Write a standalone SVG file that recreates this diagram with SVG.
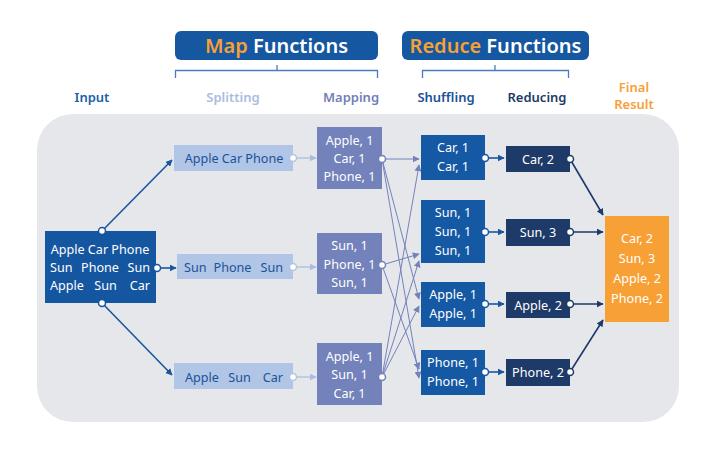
<svg xmlns="http://www.w3.org/2000/svg" width="714" height="454" viewBox="0 0 714 454">
<defs>
<style>
text{font-family:"Noto Sans","Open Sans","Liberation Sans",sans-serif;}
.hdr{font-size:20px;font-weight:600;fill:#fff;text-anchor:middle;}
.org{fill:#f7a035;}
.col{font-size:13px;font-weight:600;text-anchor:middle;}
.n{font-size:12.6px;fill:#fff;text-anchor:middle;}
.sp{font-size:12.6px;fill:#1a5299;text-anchor:middle;}
.st{text-anchor:start;}
.en{text-anchor:end;}
.br{fill:none;stroke:#4a7cc0;stroke-width:1.3;}
.dot{fill:#fff;stroke-width:1.5;}
.l1{stroke:#1a56a0;stroke-width:1.6;fill:none;}
.l2{stroke:#a9bde0;stroke-width:1.3;fill:none;}
.l3{stroke:#7382ba;stroke-width:1;fill:none;}
.l4{stroke:#1d3a68;stroke-width:1.6;fill:none;}
</style>
<marker id="a1" viewBox="0 0 10 10" refX="9" refY="5" markerWidth="7" markerHeight="7" markerUnits="userSpaceOnUse" orient="auto"><path d="M0,0L10,5L0,10z" fill="#1a56a0"/></marker>
<marker id="a2" viewBox="0 0 10 10" refX="9" refY="5" markerWidth="7" markerHeight="7" markerUnits="userSpaceOnUse" orient="auto"><path d="M0,0L10,5L0,10z" fill="#a9bde0"/></marker>
<marker id="a3" viewBox="0 0 10 10" refX="9" refY="5" markerWidth="7" markerHeight="7" markerUnits="userSpaceOnUse" orient="auto"><path d="M0,0L10,5L0,10z" fill="#7382ba"/></marker>
<marker id="a4" viewBox="0 0 10 10" refX="9" refY="5" markerWidth="7" markerHeight="7" markerUnits="userSpaceOnUse" orient="auto"><path d="M0,0L10,5L0,10z" fill="#1d3a68"/></marker>
</defs>
<rect width="714" height="454" fill="#fff"/>
<rect x="37" y="114" width="642" height="308" rx="36" fill="#e6e7eb"/>

<g id="header-map">
<rect x="175" y="31" width="203" height="29" rx="6" fill="#1557a0"/>
<text class="hdr" x="276.5" y="52.5"><tspan class="org">Map</tspan> Functions</text>
<path class="br" d="M175.5,78V70.5H377.5V78M277,70.5V65"/>
</g>
<g id="header-reduce">
<rect x="402" y="31" width="187" height="29" rx="6" fill="#1557a0"/>
<text class="hdr" x="495.5" y="52.5"><tspan class="org">Reduce</tspan> Functions</text>
<path class="br" d="M422.5,78V70.5H568.5V78M495,70.5V65"/>
</g>

<g id="labels">
<text class="col" x="92" y="102" fill="#1a5fa8">Input</text>
<text class="col" x="233" y="102" fill="#a9bde0">Splitting</text>
<text class="col" x="351" y="102" fill="#7180b8">Mapping</text>
<text class="col" x="446" y="102" fill="#1a5299">Shuffling</text>
<text class="col" x="537" y="102" fill="#1e3a66">Reducing</text>
<text class="col" x="634" y="92" fill="#f7a035">Final</text>
<text class="col" x="634" y="109" fill="#f7a035">Result</text>
</g>

<g id="connectors">
<path class="l1" d="M102,231L172,160" marker-end="url(#a1)"/>
<path class="l1" d="M102,303L172,375" marker-end="url(#a1)"/>
<path class="l1" d="M157,268H176" marker-end="url(#a1)"/>
<path class="l2" d="M293,158H316" marker-end="url(#a2)"/>
<path class="l2" d="M293,267H316" marker-end="url(#a2)"/>
<path class="l2" d="M293,377H316" marker-end="url(#a2)"/>
<path class="l3" d="M382,159L419,159" marker-end="url(#a3)"/>
<path class="l3" d="M382,159L419,299" marker-end="url(#a3)"/>
<path class="l3" d="M382,159L419,378" marker-end="url(#a3)"/>
<path class="l3" d="M382,265L419,254" marker-end="url(#a3)"/>
<path class="l3" d="M382,265L419,369" marker-end="url(#a3)"/>
<path class="l3" d="M382,377L419,165" marker-end="url(#a3)"/>
<path class="l3" d="M382,377L419,261" marker-end="url(#a3)"/>
<path class="l3" d="M382,377L419,306" marker-end="url(#a3)"/>
<path class="l1" d="M485,158H504" marker-end="url(#a1)"/>
<path class="l1" d="M485,232H504" marker-end="url(#a1)"/>
<path class="l1" d="M485,304H504" marker-end="url(#a1)"/>
<path class="l1" d="M485,372H504" marker-end="url(#a1)"/>
<path class="l4" d="M570,159L603,215" marker-end="url(#a4)"/>
<path class="l4" d="M570,232H603" marker-end="url(#a4)"/>
<path class="l4" d="M570,304H603" marker-end="url(#a4)"/>
<path class="l4" d="M570,372L603,320" marker-end="url(#a4)"/>
</g>

<g id="input">
<rect x="45" y="231" width="111" height="72" fill="#1556a0"/>
<text class="n" x="100" y="254">Apple Car Phone</text>
<text class="n st" x="50" y="272">Sun</text><text class="n" x="100" y="272">Phone</text><text class="n en" x="150" y="272">Sun</text>
<text class="n st" x="50" y="290">Apple</text><text class="n" x="105.5" y="290">Sun</text><text class="n en" x="150" y="290">Car</text>
<circle class="dot" cx="102" cy="231" r="3.5" stroke="#1556a0"/>
<circle class="dot" cx="102" cy="303" r="3.5" stroke="#1556a0"/>
<circle class="dot" cx="157" cy="268" r="3.5" stroke="#1556a0"/>
</g>

<g id="split1">
<rect x="174" y="145" width="119" height="26" fill="#b1c5e6"/>
<text class="sp" x="234" y="162.5">Apple Car Phone</text>
<circle class="dot" cx="293" cy="158" r="3.5" stroke="#b1c5e6"/>
</g>
<g id="split2">
<rect x="177" y="254" width="116" height="25" fill="#b1c5e6"/>
<text class="sp st" x="184" y="271.5">Sun</text><text class="sp" x="232.5" y="271.5">Phone</text><text class="sp en" x="283" y="271.5">Sun</text>
<circle class="dot" cx="293" cy="267" r="3.5" stroke="#b1c5e6"/>
</g>
<g id="split3">
<rect x="174" y="363" width="119" height="26" fill="#b1c5e6"/>
<text class="sp st" x="185" y="381.5">Apple</text><text class="sp" x="239.5" y="381.5">Sun</text><text class="sp en" x="283" y="381.5">Car</text>
<circle class="dot" cx="293" cy="377" r="3.5" stroke="#b1c5e6"/>
</g>

<g id="map1">
<rect x="317" y="127" width="65" height="62" fill="#7382ba"/>
<text class="n" x="349.5" y="145">Apple, 1</text>
<text class="n" x="349.5" y="163">Car, 1</text>
<text class="n" x="349.5" y="181">Phone, 1</text>
<circle class="dot" cx="382" cy="159" r="3.5" stroke="#7382ba"/>
</g>
<g id="map2">
<rect x="317" y="233" width="65" height="61" fill="#7382ba"/>
<text class="n" x="349.5" y="250">Sun, 1</text>
<text class="n" x="349.5" y="269">Phone, 1</text>
<text class="n" x="349.5" y="287">Sun, 1</text>
<circle class="dot" cx="382" cy="265" r="3.5" stroke="#7382ba"/>
</g>
<g id="map3">
<rect x="317" y="343" width="65" height="62" fill="#7382ba"/>
<text class="n" x="349.5" y="361">Apple, 1</text>
<text class="n" x="349.5" y="379">Sun, 1</text>
<text class="n" x="349.5" y="398">Car, 1</text>
<circle class="dot" cx="382" cy="377" r="3.5" stroke="#7382ba"/>
</g>

<g id="shuf1">
<rect x="421" y="135" width="64" height="45" fill="#1558a3"/>
<text class="n" x="453" y="152">Car, 1</text>
<text class="n" x="453" y="171">Car, 1</text>
<circle class="dot" cx="485" cy="158" r="3.5" stroke="#1558a3"/>
</g>
<g id="shuf2">
<rect x="421" y="200" width="64" height="63" fill="#1558a3"/>
<text class="n" x="453" y="217">Sun, 1</text>
<text class="n" x="453" y="236">Sun, 1</text>
<text class="n" x="453" y="255">Sun, 1</text>
<circle class="dot" cx="485" cy="232" r="3.5" stroke="#1558a3"/>
</g>
<g id="shuf3">
<rect x="421" y="282" width="64" height="45" fill="#1558a3"/>
<text class="n" x="453" y="299">Apple, 1</text>
<text class="n" x="453" y="318">Apple, 1</text>
<circle class="dot" cx="485" cy="304" r="3.5" stroke="#1558a3"/>
</g>
<g id="shuf4">
<rect x="421" y="350" width="64" height="45" fill="#1558a3"/>
<text class="n" x="453" y="367">Phone, 1</text>
<text class="n" x="453" y="386">Phone, 1</text>
<circle class="dot" cx="485" cy="372" r="3.5" stroke="#1558a3"/>
</g>

<g id="red1">
<rect x="506" y="146" width="64" height="26" fill="#1d3a68"/>
<text class="n" x="538" y="163.5">Car, 2</text>
<circle class="dot" cx="570" cy="159" r="3.5" stroke="#1d3a68"/>
</g>
<g id="red2">
<rect x="506" y="219" width="64" height="27" fill="#1d3a68"/>
<text class="n" x="538" y="236.5">Sun, 3</text>
<circle class="dot" cx="570" cy="232" r="3.5" stroke="#1d3a68"/>
</g>
<g id="red3">
<rect x="506" y="292" width="64" height="26" fill="#1d3a68"/>
<text class="n" x="538" y="309.5">Apple, 2</text>
<circle class="dot" cx="570" cy="304" r="3.5" stroke="#1d3a68"/>
</g>
<g id="red4">
<rect x="506" y="359" width="64" height="27" fill="#1d3a68"/>
<text class="n" x="538" y="376.5">Phone, 2</text>
<circle class="dot" cx="570" cy="372" r="3.5" stroke="#1d3a68"/>
</g>

<g id="final">
<rect x="605" y="216" width="64" height="106" fill="#f7a035"/>
<text class="n" x="637" y="243">Car, 2</text>
<text class="n" x="637" y="263">Sun, 3</text>
<text class="n" x="637" y="283">Apple, 2</text>
<text class="n" x="637" y="303">Phone, 2</text>
</g>
</svg>
